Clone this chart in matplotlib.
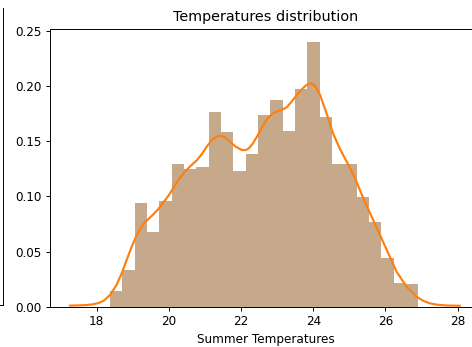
import numpy as np
import matplotlib
matplotlib.use("Agg")
import matplotlib.pyplot as plt
from matplotlib.lines import Line2D

# histogram (density)
bin_lo, bin_hi = 18.37, 26.91
density = [0.0145, 0.0332, 0.0937, 0.068, 0.0957, 0.129, 0.1247, 0.1268,
           0.1766, 0.158, 0.123, 0.138, 0.174, 0.187, 0.159, 0.1975,
           0.240, 0.172, 0.129, 0.129, 0.0996, 0.077, 0.0438, 0.0212, 0.0203]

# kde curve, points
kde_x = [17.26, 17.50, 17.72, 17.90, 18.05, 18.20, 18.37, 18.55, 18.69, 18.83,
         18.97, 19.11, 19.22, 19.33, 19.45, 19.58, 19.71, 19.85, 20.00, 20.15,
         20.30, 20.45, 20.60, 20.77, 20.92, 21.05, 21.18, 21.30, 21.42, 21.55,
         21.69, 21.85, 22.02, 22.12, 22.22, 22.33, 22.45, 22.58, 22.72, 22.86,
         23.00, 23.12, 23.26, 23.40, 23.55, 23.68, 23.80, 23.91, 24.00, 24.08,
         24.19, 24.37, 24.55, 24.74, 24.93, 25.16, 25.39, 25.62, 25.85, 26.08,
         26.31, 26.59, 26.86, 27.05, 27.23, 27.42, 27.60, 27.80, 28.06]
kde_y = [0.0010, 0.0012, 0.0015, 0.0022, 0.0033, 0.0056, 0.0106, 0.0197, 0.0300, 0.0423,
         0.0543, 0.0650, 0.0712, 0.0763, 0.0800, 0.0840, 0.0886, 0.0945, 0.1010, 0.1090,
         0.1165, 0.1225, 0.1275, 0.1325, 0.1385, 0.1450, 0.1505, 0.1538, 0.1548, 0.1535,
         0.1495, 0.1450, 0.1420, 0.1418, 0.1435, 0.1480, 0.1545, 0.1625, 0.1700, 0.1745,
         0.1770, 0.1782, 0.1805, 0.1857, 0.1920, 0.1968, 0.2005, 0.2024, 0.2015, 0.1985,
         0.1918, 0.1752, 0.1570, 0.1430, 0.1313, 0.1163, 0.0982, 0.0815, 0.0650, 0.0484,
         0.0317, 0.0181, 0.0091, 0.0053, 0.0031, 0.0019, 0.0013, 0.0010, 0.0009]

DPI = 86.4
W, H = 473, 347
fig = plt.figure(figsize=(W / DPI, H / DPI), dpi=DPI)
ax = fig.add_axes([50 / W, 0.1161, 0.9112, 0.8017])

edges = np.linspace(bin_lo, bin_hi, len(density) + 1)
ax.bar(edges[:-1], density, width=np.diff(edges), align="edge",
       color="#c6a98b", linewidth=0)
ax.plot(kde_x, kde_y, color="#ff7f0e", lw=1.8, solid_joinstyle="round")

ax.set_xlim(16.706, 28.65)
ax.set_ylim(0, 0.252)
ax.set_xticks([18, 20, 22, 24, 26, 28])
ax.set_yticks([0.0, 0.05, 0.10, 0.15, 0.20, 0.25])
ax.yaxis.set_major_formatter(matplotlib.ticker.FormatStrFormatter("%.2f"))
ax.spines["right"].set_visible(False)
ax.set_title("Temperatures distribution")
ax.set_xlabel("Summer Temperatures")

# bit of a neighbouring panel that shows at the left edge of the crop
fig.add_artist(Line2D([3 / W, 3 / W], [1 - 8 / H, 1 - 305 / H],
                      transform=fig.transFigure, color="black", lw=0.8))
fig.add_artist(Line2D([0, 3 / W], [1 - 305 / H, 1 - 305 / H],
                      transform=fig.transFigure, color="black", lw=0.8))

fig.savefig("out.png", dpi=DPI)
